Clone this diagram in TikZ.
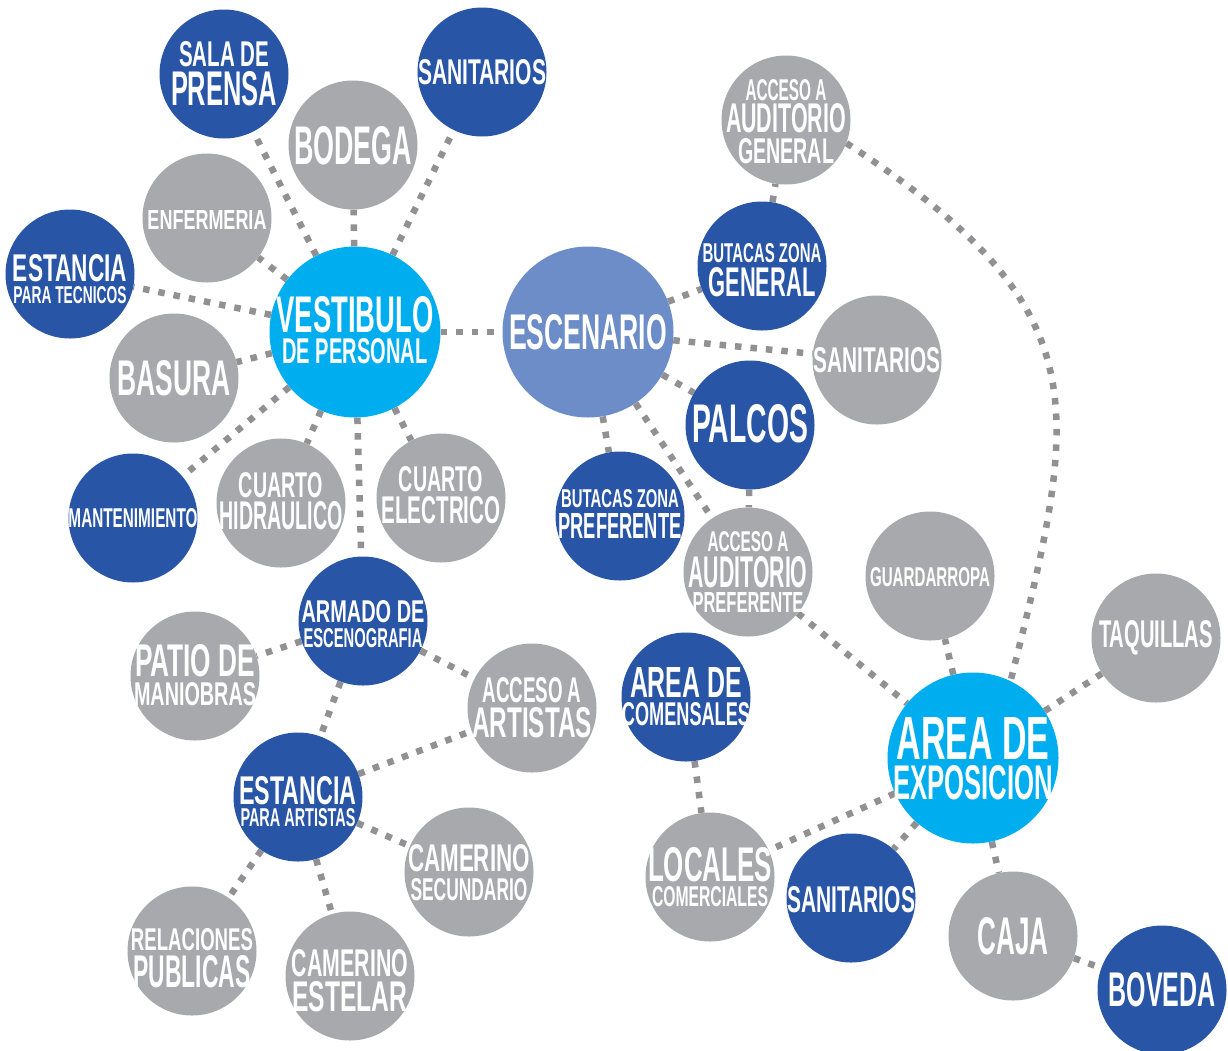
\documentclass[tikz,border=0pt]{standalone}
\usepackage{fontspec}
\usepackage{graphicx}
\usetikzlibrary{backgrounds}
\newfontfamily\cf{Liberation Sans}
\definecolor{cDark}{RGB}{40,85,165}
\definecolor{cGray}{RGB}{167,169,172}
\definecolor{cCyan}{RGB}{0,174,239}
\definecolor{cEsc}{RGB}{108,141,200}
\definecolor{cLine}{RGB}{145,145,148}
% one text line: width, cap height, text
\newcommand\Ln[3]{\hbox to 0pt{\hss\resizebox{#1pt}{#2pt}{\cf\bfseries #3}\hss}}
% stacked text, zero size; #1 = twice the downward shift
\newcommand\Tx[2]{\vbox to 0pt{\offinterlineskip\vss\vskip#1pt\relax #2\vss}}
\newcommand\G[1]{\vskip#1pt\relax}
\tikzset{
  bub/.style={circle, inner sep=0pt, minimum size=129pt, text=white},
  bigbub/.style={bub, minimum size=171pt},
  dk/.style={bub, fill=cDark},
  gr/.style={bub, fill=cGray},
  cy/.style={bigbub, fill=cCyan},
  es/.style={bigbub, fill=cEsc},
  link/.style={draw=cLine, line width=6.5pt, dash pattern=on 6.5pt off 9pt}
}
\begin{document}
\begin{tikzpicture}[x=1pt,y=-1pt]
\useasboundingbox (0,0) rectangle (1228,1050);
% bubbles
\node[dk] (sala) at (224,74) {\Tx{0}{\Ln{90}{25}{SALA DE}\G{5}\Ln{106}{34}{PRENSA}}};
\node[dk] (san1) at (482,72) {\Tx{1}{\Ln{128}{25}{SANITARIOS}}};
\node[gr] (bodega) at (353,145) {\Tx{2}{\Ln{118}{38}{BODEGA}}};
\node[gr] (enf) at (207,218) {\Tx{3}{\Ln{119}{19}{ENFERMERIA}}};
\node[dk] (esttec) at (70,274) {\Tx{10}{\Ln{114}{27}{ESTANCIA}\G{4}\Ln{113}{17}{PARA TECNICOS}}};
\node[cy] (vest) at (355,332) {\Tx{-4}{\Ln{157}{36}{VESTIBULO}\G{5}\Ln{145}{25}{DE PERSONAL}}};
\node[gr] (basura) at (174,378) {\Tx{0}{\Ln{113}{35}{BASURA}}};
\node[dk] (mant) at (133,518) {\Tx{1}{\Ln{129}{19}{MANTENIMIENTO}}};
\node[gr] (hidr) at (281,503) {\Tx{-3}{\Ln{84}{25}{CUARTO}\G{4}\Ln{123}{28}{HIDRAULICO}}};
\node[gr] (elec) at (441,498) {\Tx{-5}{\Ln{84}{25}{CUARTO}\G{5}\Ln{119}{27}{ELECTRICO}}};
\node[es] (esc) at (588,332) {\Tx{1}{\Ln{158}{35}{ESCENARIO}}};
\node[gr] (accgen) at (786,120) {\Tx{3}{\Ln{81}{21}{ACCESO A}\G{3}\Ln{120}{29}{AUDITORIO}\G{5}\Ln{96}{25}{GENERAL}}};
\node[dk] (butgen) at (762,266) {\Tx{9}{\Ln{119}{19}{BUTACAS ZONA}\G{5}\Ln{107}{29}{GENERAL}}};
\node[gr] (san2) at (877,360) {\Tx{1}{\Ln{127}{25}{SANITARIOS}}};
\node[dk] (palcos) at (750,425) {\Tx{-2}{\Ln{116}{38}{PALCOS}}};
\node[dk] (butpref) at (620,516) {\Tx{-4}{\Ln{118}{18}{BUTACAS ZONA}\G{5}\Ln{123}{25}{PREFERENTE}}};
\node[gr] (accpref) at (748,572) {\Tx{0}{\Ln{81}{20}{ACCESO A}\G{5}\Ln{119}{31}{AUDITORIO}\G{4}\Ln{111}{20}{PREFERENTE}}};
\node[gr] (guard) at (930,576) {\Tx{3}{\Ln{120}{19}{GUARDARROPA}}};
\node[gr] (taq) at (1156,638) {\Tx{0}{\Ln{114}{27}{TAQUILLAS}}};
\node[cy] (expo) at (973,758) {\Tx{2}{\Ln{153}{42}{AREA DE}\G{6}\Ln{160}{34}{EXPOSICION}}};
\node[dk] (comens) at (686,697) {\Tx{0}{\Ln{112}{30}{AREA DE}\G{5}\Ln{128}{23}{COMENSALES}}};
\node[gr] (locales) at (710,877) {\Tx{0}{\Ln{124}{34}{LOCALES}\G{4}\Ln{116}{20}{COMERCIALES}}};
\node[dk] (san3) at (851,898) {\Tx{4}{\Ln{128}{26}{SANITARIOS}}};
\node[gr] (caja) at (1013,936) {\Tx{1}{\Ln{71}{37}{CAJA}}};
\node[dk] (boveda) at (1162,990) {\Tx{0}{\Ln{107}{34}{BOVEDA}}};
\node[dk] (armado) at (363,621) {\Tx{6}{\Ln{123}{22}{ARMADO DE}\G{5}\Ln{119}{19}{ESCENOGRAFIA}}};
\node[gr] (patio) at (195,676) {\Tx{-2}{\Ln{120}{32}{PATIO DE}\G{5}\Ln{122}{23}{MANIOBRAS}}};
\node[gr] (accart) at (532,708) {\Tx{0}{\Ln{99}{25}{ACCESO A}\G{5}\Ln{120}{30}{ARTISTAS}}};
\node[dk] (estart) at (298,797) {\Tx{9}{\Ln{117}{28}{ESTANCIA}\G{3}\Ln{115}{18}{PARA ARTISTAS}}};
\node[gr] (camsec) at (469,872) {\Tx{1}{\Ln{122}{27}{CAMERINO}\G{6}\Ln{117}{22}{SECUNDARIO}}};
\node[gr] (relpub) at (192,951) {\Tx{14}{\Ln{122}{22}{RELACIONES}\G{5}\Ln{117}{32}{PUBLICAS}}};
\node[gr] (camest) at (350,976) {\Tx{10}{\Ln{116}{27}{CAMERINO}\G{5}\Ln{115}{30}{ESTELAR}}};
% connectors
\begin{pgfonlayer}{background}
\fill[white] (0,0) rectangle (1228,1050);
\foreach \a/\b in {vest/sala, vest/bodega, vest/san1, vest/enf, vest/esttec,
  vest/basura, vest/mant, vest/hidr, vest/elec, vest/esc, vest/armado,
  esc/butgen, esc/san2, esc/palcos, esc/butpref, esc/accpref,
  butgen/accgen, palcos/accpref, accpref/expo,
  expo/guard, expo/taq, expo/locales, expo/san3, expo/caja, caja/boveda,
  comens/locales,
  armado/patio, armado/accart, armado/estart, estart/accart,
  estart/camsec, estart/relpub, estart/camest}
  \draw[link] (\a) -- (\b);
\draw[link] (accgen.-21) .. controls (1102,310) and (1080,405) .. (expo.64);
\end{pgfonlayer}
\end{tikzpicture}
\end{document}
